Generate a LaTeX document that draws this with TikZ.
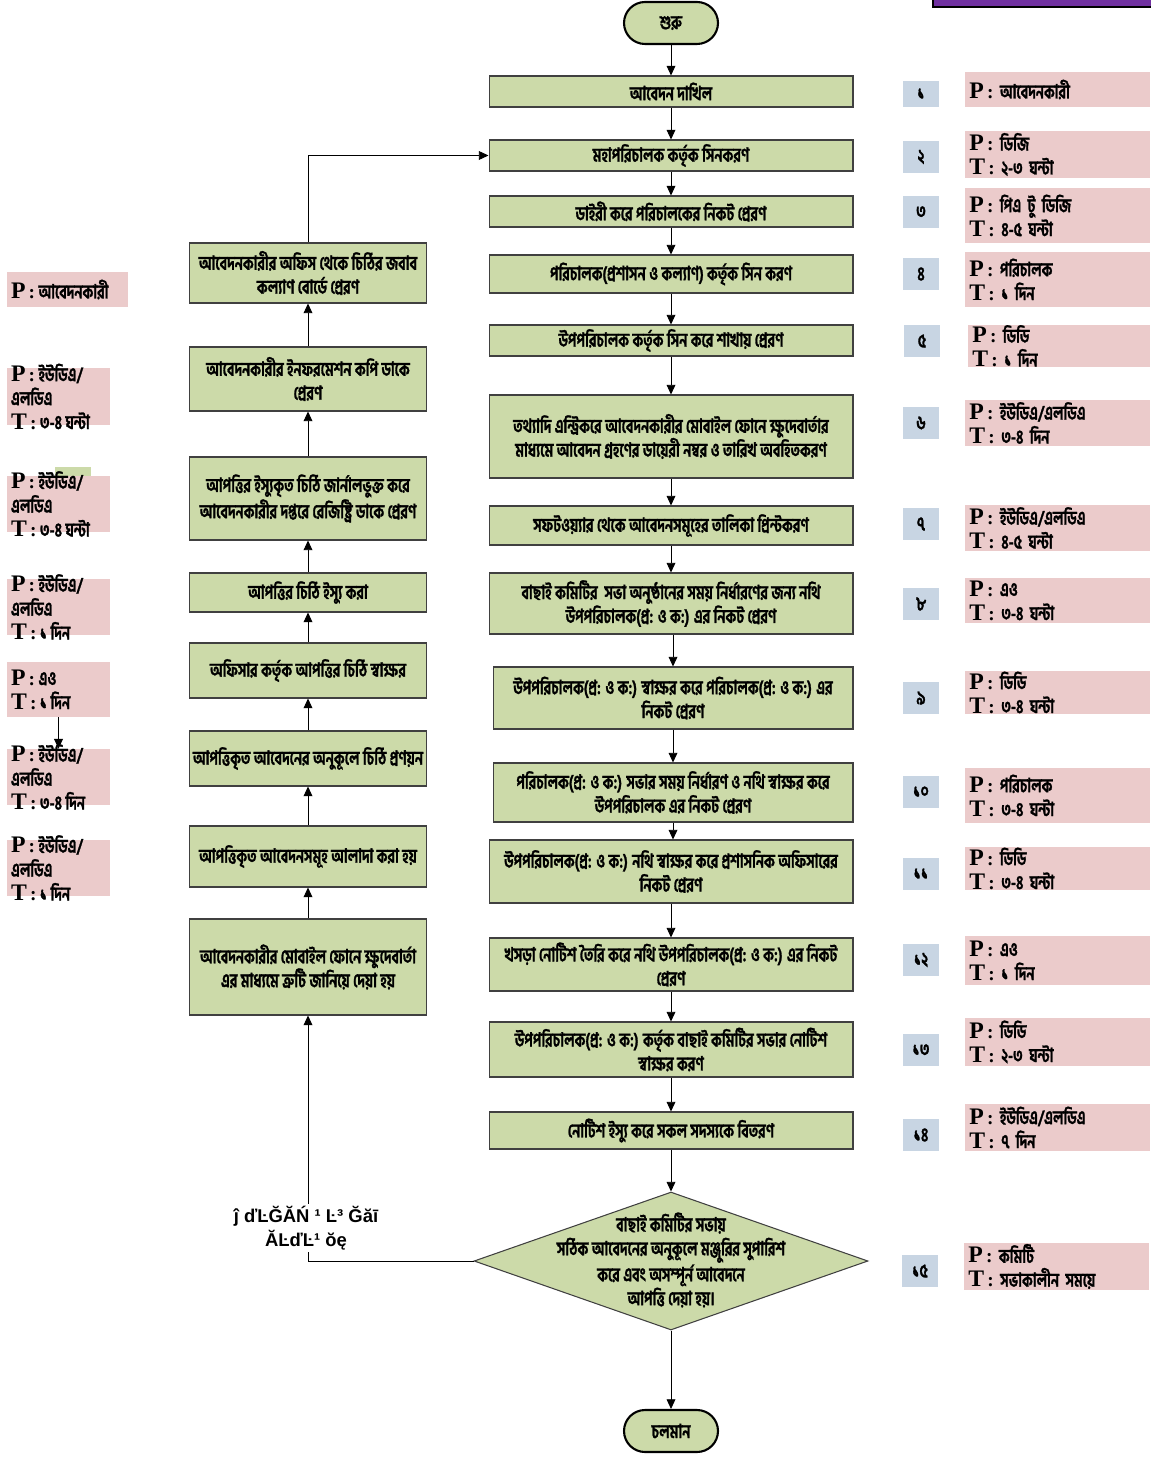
\documentclass[tikz,border=0pt]{standalone}
\usepackage{fontspec}
\usepackage{tikz}
\usetikzlibrary{shapes.geometric,arrows.meta}
\newfontfamily\bn[Script=Bengali,FakeStretch=0.73,FakeBold=1.4]{Hind Siliguri}
\newfontfamily\lat{Liberation Serif}
\newfontfamily\garbled{Liberation Sans}
\definecolor{box green}{HTML}{CCDAA9}
\definecolor{note pink}{HTML}{EBCBCB}
\definecolor{step blue}{HTML}{C8D5E3}
\definecolor{banner purple}{HTML}{7030A0}
\newcommand\bntext{\bn\bfseries\fontsize{11}{13.6}\selectfont}
\newcommand\lbl[1]{{\lat\bfseries{\fontsize{13.5}{13.6}\selectfont #1}\,:}\ }

\begin{document}
\begin{tikzpicture}[x=0.02cm, y=-0.02cm,
	gbox/.style={draw=black!75, line width=0.6pt, fill=box green, align=center, font=\bntext, inner sep=1pt},
	rbox/.style={gbox, minimum width=7.28cm},
	lbox/.style={gbox, minimum width=4.74cm},
	term/.style={gbox, draw=black, line width=1.2pt, rounded corners=0.42cm, minimum width=1.88cm, minimum height=0.84cm},
	dbox/.style={diamond, draw=black!75, line width=0.6pt, fill=box green, inner sep=0pt, minimum width=7.88cm, minimum height=2.76cm},
	nbox/.style={fill=step blue, font=\bntext, minimum width=0.72cm, minimum height=0.64cm, inner sep=0pt},
	pbox/.style={fill=note pink, anchor=west, font=\bntext, align=left, text width=3.54cm, inner xsep=0.08cm, inner ysep=0pt},
	lpbox/.style={fill=note pink, inner sep=0pt, minimum width=2.06cm},
	ptext/.style={anchor=west, font=\bntext, align=left, inner xsep=0.08cm, inner ysep=0pt},
	arr/.style={-{Triangle[length=5.5pt,width=5pt]}, line width=0.5pt}]
			\useasboundingbox (0,0) rectangle (1150,1459);
			% banner at the top
			\draw[line width=1pt, fill=banner purple] (933,-20) rectangle (1170,7);
			% part for the main column
			\begin{scope}
				\node[term] (start) at (671,23) {শুরু};
				\node[rbox, minimum height=0.62cm] (r1) at (671,91.5) {আবেদন দাখিল};
				\node[rbox, minimum height=0.62cm] (r2) at (671,155.5) {মহাপরিচালক কর্তৃক সিনকরণ};
				\node[rbox, minimum height=0.62cm] (r3) at (671,211.5) {ডাইরী করে পরিচালকের নিকট প্রেরণ};
				\node[rbox, minimum height=0.76cm] (r4) at (671,274) {পরিচালক(প্রশাসন ও কল্যাণ) কর্তৃক সিন করণ};
				\node[rbox, minimum height=0.62cm] (r5) at (671,340.5) {উপপরিচালক কর্তৃক সিন করে শাখায় প্রেরণ};
				\node[rbox, minimum height=1.66cm] (r6) at (671,436.5) {তথ্যাদি এন্ট্রিকরে আবেদনকারীর মোবাইল ফোনে ক্ষুদেবার্তার\\মাধ্যমে আবেদন গ্রহণের ডায়েরী নম্বর ও তারিখ অবহিতকরণ};
				\node[rbox, minimum height=0.78cm] (r7) at (671,525.5) {সফটওয়্যার থেকে আবেদনসমূহের তালিকা প্রিন্টকরণ};
				\node[rbox, minimum height=1.22cm] (r8) at (671,603.5) {বাছাই কমিটির~ সভা অনুষ্ঠানের সময় নির্ধারণের জন্য নথি\\উপপরিচালক(প্র: ও ক:) এর নিকট প্রেরণ};
				\node[gbox, minimum width=7.2cm, minimum height=1.24cm] (r9) at (673,698) {উপপরিচালক(প্র: ও ক:) স্বাক্ষর করে পরিচালক(প্র: ও ক:) এর\\নিকট প্রেরণ};
				\node[gbox, minimum width=7.2cm, minimum height=1.18cm] (r10) at (673,792.5) {পরিচালক(প্র: ও ক:) সভার সময় নির্ধারণ ও নথি স্বাক্ষর করে\\উপপরিচালক এর নিকট প্রেরণ};
				\node[rbox, minimum height=1.26cm] (r11) at (671,871.5) {উপপরিচালক(প্র: ও ক:) নথি স্বাক্ষর করে প্রশাসনিক অফিসারের\\নিকট প্রেরণ};
				\node[rbox, minimum height=1.06cm] (r12) at (671,964.5) {খসড়া নোটিশ তৈরি করে নথি উপপরিচালক(প্র: ও ক:) এর নিকট\\প্রেরণ};
				\node[rbox, minimum height=1.10cm] (r13) at (671,1049.5) {উপপরিচালক(প্র: ও ক:) কর্তৃক বাছাই কমিটির সভার নোটিশ\\স্বাক্ষর করণ};
				\node[rbox, minimum height=0.74cm] (r14) at (671,1130.5) {নোটিশ ইস্যু করে সকল সদস্যকে বিতরণ};
				\node[dbox] (d15) at (671,1261) {};
				\node[font=\bntext, align=center, inner sep=0pt] (d15t) at (671,1260) {বাছাই কমিটির সভায়\\সঠিক আবেদনের অনুকূলে মঞ্জুরির সুপারিশ\\করে এবং অসম্পূর্ন আবেদনে\\আপত্তি দেয়া হয়।};
				\node[term] (end) at (671,1431) {চলমান};
			\end{scope}
			% arrows down the main column
			\draw[arr] (start) -- (r1);
			\draw[arr] (r1) -- (r2);
			\draw[arr] (r2) -- (r3);
			\draw[arr] (r3) -- (r4);
			\draw[arr] (r4) -- (r5);
			\draw[arr] (r5) -- (r6);
			\draw[arr] (r6) -- (r7);
			\draw[arr] (r7) -- (r8);
			\draw[arr] (r8.south -| r9.north) -- (r9.north);
			\draw[arr] (r9) -- (r10);
			\draw[arr] (r10.south) -- (r10.south |- r11.north);
			\draw[arr] (r11) -- (r12);
			\draw[arr] (r12) -- (r13);
			\draw[arr] (r13) -- (r14);
			\draw[arr] (r14) -- (d15.north);
			\draw[arr] (d15.south) -- (end);
			% part for the objection column
			\begin{scope}
				\node[lbox, minimum height=1.2cm] (l1) at (308,273) {আবেদনকারীর অফিস থেকে চিঠির জবাব\\কল্যাণ বোর্ডে প্রেরণ};
				\node[lbox, minimum height=1.28cm] (l2) at (308,379) {আবেদনকারীর ইনফরমেশন কপি ডাকে\\প্রেরণ};
				\node[lbox, minimum height=1.66cm] (l3) at (308,498.5) {আপত্তির ইস্যুকৃত চিঠি জার্নালভুক্ত করে\\আবেদনকারীর দপ্তরে রেজিষ্ট্রি ডাকে প্রেরণ};
				\node[lbox, minimum height=0.78cm] (l4) at (308,592.5) {আপত্তির চিঠি ইস্যু করা};
				\node[lbox, minimum height=1.10cm] (l5) at (308,670.5) {অফিসার কর্তৃক আপত্তির চিঠি স্বাক্ষর};
				\node[lbox, minimum height=1.10cm] (l6) at (308,758.5) {আপত্তিকৃত আবেদনের অনুকূলে চিঠি প্রণয়ন};
				\node[lbox, minimum height=1.22cm] (l7) at (308,856.5) {আপত্তিকৃত আবেদনসমূহ আলাদা করা হয়};
				\node[lbox, minimum height=1.92cm] (l8) at (308,967) {আবেদনকারীর মোবাইল ফোনে ক্ষুদেবার্তা\\এর মাধ্যমে ত্রুটি জানিয়ে দেয়া হয়};
			\end{scope}
			% arrows up the objection column
			\draw[arr] (d15.west) -| (l8.south);
			\draw[arr] (l8) -- (l7);
			\draw[arr] (l7) -- (l6);
			\draw[arr] (l6) -- (l5);
			\draw[arr] (l5) -- (l4);
			\draw[arr] (l4) -- (l3);
			\draw[arr] (l3) -- (l2);
			\draw[arr] (l2) -- (l1);
			\draw[arr] (l1.north) |- (r2.west);
			\node[fill=white, inner sep=1pt, align=center, font=\garbled\bfseries\fontsize{10.5}{13.6}\selectfont] (broken) at (306,1228) {ĵ ďĿĞĂŃ ¹ Ŀ³ Ğăī\\ĂĿďĿ¹ ŏę};
			% step numbers
			\node[nbox, minimum height=0.52cm] (n1) at (921,94) {১};
			\node[nbox] (n2) at (921,157) {২};
			\node[nbox] (n3) at (921,212) {৩};
			\node[nbox] (n4) at (921,274) {৪};
			\node[nbox] (n5) at (922,341) {৫};
			\node[nbox] (n6) at (921,423) {৬};
			\node[nbox] (n7) at (921,524) {৭};
			\node[nbox] (n8) at (921,604) {৮};
			\node[nbox] (n9) at (921,698) {৯};
			\node[nbox] (n10) at (921,792) {১০};
			\node[nbox] (n11) at (921,874) {১১};
			\node[nbox] (n12) at (921,960) {১২};
			\node[nbox] (n13) at (921,1050) {১৩};
			\node[nbox] (n14) at (921,1135) {১৪};
			\node[nbox] (n15) at (920,1271) {১৫};
			% who and how long, right side
			\node[pbox, minimum height=0.70cm] (p1) at (965,89.5) {\lbl{P}আবেদনকারী};
			\node[pbox, minimum height=0.94cm] (p2) at (965,154.5) {\lbl{P}ডিজি\\\lbl{T}২-৩ ঘন্টা};
			\node[pbox, minimum height=1.10cm] (p3) at (965,215.5) {\lbl{P}পিএ টু ডিজি\\\lbl{T}৪-৫ ঘন্টা};
			\node[pbox, minimum height=1.10cm] (p4) at (965,279.5) {\lbl{P}পরিচালক\\\lbl{T}১ দিন};
			\node[pbox, minimum height=0.84cm, text width=3.48cm] (p5) at (968,346) {\lbl{P}ডিডি\\\lbl{T}১ দিন};
			\node[pbox, minimum height=0.92cm] (p6) at (965,423) {\lbl{P}ইউডিএ/এলডিএ\\\lbl{T}৩-৪ দিন};
			\node[pbox, minimum height=0.92cm] (p7) at (965,528) {\lbl{P}ইউডিএ/এলডিএ\\\lbl{T}৪-৫ ঘন্টা};
			\node[pbox, minimum height=0.90cm] (p8) at (965,600.5) {\lbl{P}এও\\\lbl{T}৩-৪ ঘন্টা};
			\node[pbox, minimum height=0.86cm] (p9) at (965,692.5) {\lbl{P}ডিডি\\\lbl{T}৩-৪ ঘন্টা};
			\node[pbox, minimum height=1.10cm] (p10) at (965,795.5) {\lbl{P}পরিচালক\\\lbl{T}৩-৪ ঘন্টা};
			\node[pbox, minimum height=0.86cm] (p11) at (965,868.5) {\lbl{P}ডিডি\\\lbl{T}৩-৪ ঘন্টা};
			\node[pbox, minimum height=0.98cm] (p12) at (965,960.5) {\lbl{P}এও\\\lbl{T}১ দিন};
			\node[pbox, minimum height=0.96cm] (p13) at (965,1042) {\lbl{P}ডিডি\\\lbl{T}২-৩ ঘন্টা};
			\node[pbox, minimum height=0.94cm] (p14) at (965,1127.5) {\lbl{P}ইউডিএ/এলডিএ\\\lbl{T}৭ দিন};
			\node[pbox, minimum height=0.94cm] (p15) at (964,1266.5) {\lbl{P}কমিটি\\\lbl{T}সভাকালীন সময়ে};
			% who and how long, left side
			\node[lpbox, minimum width=2.42cm, minimum height=0.70cm] (lp1) at (67.5,289.5) {};
			\node[ptext] (lp1t) at (lp1.west) {\lbl{P}আবেদনকারী};
			\node[lpbox, minimum height=1.14cm] (lp2) at (58.5,396.5) {};
			\node[ptext] (lp2t) at (lp2.west) {\lbl{P}ইউডিএ/\\এলডিএ\\\lbl{T}৩-৪ ঘন্টা};
			\node[fill=box green, minimum width=0.72cm, minimum height=0.2cm, inner sep=0pt] (lp3g) at (73,472) {};
			\node[lpbox, minimum height=1.12cm] (lp3) at (58.5,504) {};
			\node[ptext] (lp3t) at (lp3.west) {\lbl{P}ইউডিএ/\\এলডিএ\\\lbl{T}৩-৪ ঘন্টা};
			\node[lpbox, minimum height=1.12cm] (lp4) at (58.5,607) {};
			\node[ptext] (lp4t) at (lp4.west) {\lbl{P}ইউডিএ/\\এলডিএ\\\lbl{T}১ দিন};
			\node[lpbox, minimum height=1.10cm] (lp5) at (58.5,689.5) {};
			\node[ptext] (lp5t) at (lp5.west) {\lbl{P}এও\\\lbl{T}১ দিন};
			\node[lpbox, minimum height=1.12cm] (lp6) at (58.5,777) {};
			\node[ptext] (lp6t) at (lp6.west) {\lbl{P}ইউডিএ/\\এলডিএ\\\lbl{T}৩-৪ দিন};
			\node[lpbox, minimum height=1.12cm] (lp7) at (58.5,868) {};
			\node[ptext] (lp7t) at (lp7.west) {\lbl{P}ইউডিএ/\\এলডিএ\\\lbl{T}১ দিন};
			\draw[arr] (lp5.south) -- (lp6.north);
		\end{tikzpicture}
\end{document}
